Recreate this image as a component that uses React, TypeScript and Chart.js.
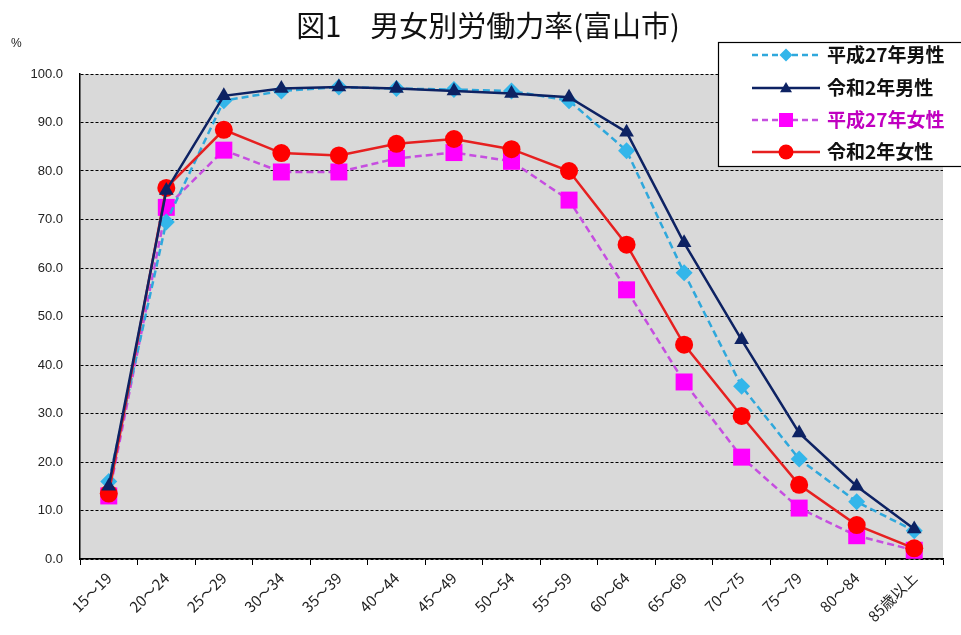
import { useEffect, useRef } from "react";
import { Chart, registerables } from "chart.js";

Chart.register(...registerables);

const categories = [
  "15～19", "20～24", "25～29", "30～34", "35～39", "40～44", "45～49",
  "50～54", "55～59", "60～64", "65～69", "70～75", "75～79", "80～84", "85歳以上",
];
const h27Male = [16.0, 69.5, 94.5, 96.5, 97.3, 97.0, 96.8, 96.5, 94.5, 84.2, 59.0, 35.6, 20.6, 11.8, 5.8];
const r2Male = [15.0, 76.0, 95.5, 97.0, 97.3, 97.0, 96.5, 96.0, 95.2, 88.0, 65.2, 45.2, 26.0, 15.0, 6.2];
const h27Female = [13.0, 72.5, 84.3, 79.8, 79.8, 82.6, 83.8, 82.0, 74.0, 55.5, 36.5, 21.0, 10.5, 4.8, 1.8];
const r2Female = [13.5, 76.5, 88.5, 83.7, 83.2, 85.6, 86.6, 84.5, 80.0, 64.8, 44.2, 29.5, 15.3, 7.0, 2.2];
const yTicks = [0, 10, 20, 30, 40, 50, 60, 70, 80, 90, 100];
const titleText = "図1　男女別労働力率(富山市)";
const legendLabels = ["平成27年男性", "令和2年男性", "平成27年女性", "令和2年女性"];

const C_LBLUE = "#2fa8dc";
const C_LBLUE_PT = "#33b6ea";
const C_NAVY = "#0d2263";
const C_MAG_LINE = "#c64ee0";
const C_MAG = "#ff00ff";
const C_RED = "#ff0000";

const FONT_NUM = "'Liberation Sans', Arial, 'Noto Sans CJK JP', sans-serif";
const FONT_JP = "'Noto Sans CJK JP', sans-serif";

function drawMarker(ctx: CanvasRenderingContext2D, kind: string, x: number, y: number, color: string) {
  ctx.save();
  ctx.fillStyle = color;
  ctx.setLineDash([]);
  ctx.beginPath();
  if (kind === "diamond") {
    const r = 6.5;
    ctx.moveTo(x, y - r); ctx.lineTo(x + r, y); ctx.lineTo(x, y + r); ctx.lineTo(x - r, y); ctx.closePath();
  } else if (kind === "triangle") {
    const r = 6;
    ctx.moveTo(x, y - r); ctx.lineTo(x + r, y + r * 0.7); ctx.lineTo(x - r, y + r * 0.7); ctx.closePath();
  } else if (kind === "square") {
    const s = 7;
    ctx.rect(x - s, y - s, 2 * s, 2 * s);
  } else {
    ctx.arc(x, y, 7.5, 0, Math.PI * 2);
  }
  ctx.fill();
  ctx.restore();
}

const overlayPlugin = {
  id: "overlay",
  beforeDraw(chart: any) {
    const { ctx, chartArea } = chart;
    ctx.save();
    ctx.fillStyle = "#d9d9d9";
    ctx.fillRect(chartArea.left, chartArea.top, chartArea.right - chartArea.left, chartArea.bottom - chartArea.top);
    ctx.restore();
  },
  afterDraw(chart: any) {
    const ctx: CanvasRenderingContext2D = chart.ctx;
    ctx.save();
    // title
    ctx.fillStyle = "#111";
    ctx.font = `29px ${FONT_JP}`;
    ctx.textAlign = "center";
    ctx.textBaseline = "middle";
    ctx.fillText(titleText, 488, 26);
    // percent label
    ctx.font = `12px ${FONT_NUM}`;
    ctx.textAlign = "left";
    ctx.fillStyle = "#222";
    ctx.fillText("%", 11, 44);
    // legend box
    ctx.fillStyle = "#ffffff";
    ctx.fillRect(718, 42, 260, 124);
    ctx.strokeStyle = "#000";
    ctx.lineWidth = 1.2;
    ctx.strokeRect(718.5, 42.5, 260, 124);
    const rows = [
      { y: 55, color: C_LBLUE, pt: C_LBLUE_PT, dash: [6, 4], kind: "diamond", text: "#111" },
      { y: 88, color: C_NAVY, pt: C_NAVY, dash: [], kind: "triangle", text: "#111" },
      { y: 120, color: C_MAG_LINE, pt: C_MAG, dash: [6, 4], kind: "square", text: "#c000c0" },
      { y: 152, color: "#e62020", pt: C_RED, dash: [], kind: "circle", text: "#111" },
    ];
    rows.forEach((r, i) => {
      ctx.beginPath();
      ctx.strokeStyle = r.color;
      ctx.lineWidth = 2.5;
      ctx.setLineDash(r.dash);
      ctx.moveTo(752, r.y);
      ctx.lineTo(820, r.y);
      ctx.stroke();
      ctx.setLineDash([]);
      drawMarker(ctx, r.kind, 786, r.y, r.pt);
      ctx.fillStyle = r.text;
      ctx.font = `bold 19px ${FONT_JP}`;
      ctx.textAlign = "left";
      ctx.textBaseline = "middle";
      ctx.fillText(legendLabels[i], 827, r.y);
    });
    ctx.restore();
  },
};

export default function App() {
  const ref = useRef<HTMLCanvasElement | null>(null);
  useEffect(() => {
    if (!ref.current) return;
    const chart = new Chart(ref.current, {
      type: "line",
      data: {
        labels: categories,
        datasets: [
          {
            label: legendLabels[1], data: r2Male, borderColor: C_NAVY, backgroundColor: C_NAVY,
            borderWidth: 2.5, pointStyle: "triangle", pointRadius: 8.5, pointBorderWidth: 0, clip: false,
          },
          {
            label: legendLabels[3], data: r2Female, borderColor: "#e62020", backgroundColor: C_RED,
            borderWidth: 2.5, pointStyle: "circle", pointRadius: 9, pointBorderWidth: 0, clip: false,
          },
          {
            label: legendLabels[0], data: h27Male, borderColor: C_LBLUE, backgroundColor: C_LBLUE_PT,
            borderWidth: 2.5, borderDash: [7, 4], pointStyle: "rectRot", pointRadius: 8.5, pointBorderWidth: 0, clip: false,
          },
          {
            label: legendLabels[2], data: h27Female, borderColor: C_MAG_LINE, backgroundColor: C_MAG,
            borderWidth: 2.5, borderDash: [7, 4], pointStyle: "rect", pointRadius: 12, pointBorderWidth: 0, clip: false,
          },
        ],
      },
      options: {
        responsive: false,
        animation: false,
        layout: { padding: { left: 20, right: 18, top: 74, bottom: 0 } },
        plugins: {
          legend: { display: false },
          title: { display: false },
          tooltip: { enabled: false },
        },
        elements: { line: { tension: 0 } },
        scales: {
          x: {
            type: "category",
            offset: true,
            afterFit: (s: any) => { s.height = 76; },
            grid: { offset: true, drawOnChartArea: false, drawTicks: true, tickLength: 6, color: "#000", lineWidth: 1 },
            border: { color: "#000", width: 1.5 },
            ticks: {
              color: "#222",
              font: { family: FONT_JP, size: 15 },
              maxRotation: 45,
              minRotation: 45,
              padding: 4,
              autoSkip: false,
            },
          },
          y: {
            min: 0,
            max: 100,
            afterFit: (s: any) => { s.width = 60; },
            afterBuildTicks: (s: any) => { s.ticks = yTicks.map((v) => ({ value: v })); },
            grid: { color: "#000", lineWidth: 1, drawTicks: false },
            border: { color: "#000", width: 1.5, dash: [3, 2] },
            ticks: {
              color: "#222",
              font: { family: FONT_NUM, size: 13 },
              padding: 17,
              callback: (v: any) => Number(v).toFixed(1),
            },
          },
        },
      },
      plugins: [overlayPlugin],
    } as any);
    return () => chart.destroy();
  }, []);
  return (
    <div style={{ position: "fixed", left: 0, top: 0, width: 961, height: 635, background: "#fff" }}>
      <canvas ref={ref} width={961} height={635} />
    </div>
  );
}
